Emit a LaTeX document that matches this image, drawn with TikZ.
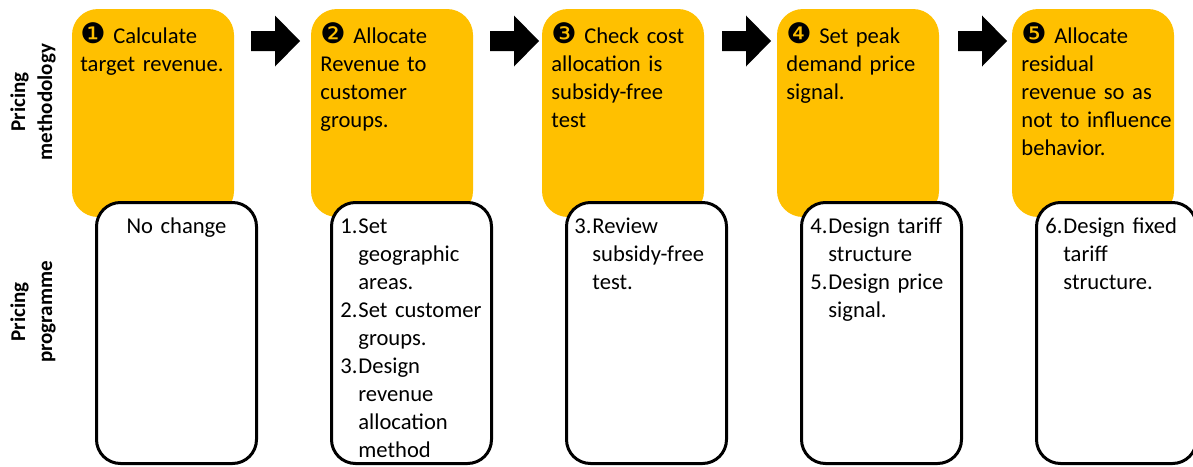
\documentclass[tikz,border=0pt]{standalone}
\usepackage{fontspec}
\setmainfont{Carlito}
\newfontfamily\dingfont{DejaVu Sans}[Scale=1.25]
\usepackage{tikz}
\usepackage{xcolor}
\definecolor{ColStep}{RGB}{255,192,0}
\tikzstyle{StepBox}=[rectangle,rounded corners=13pt,fill=ColStep,minimum width=81pt,
minimum height=104pt,inner sep=0pt]
\tikzstyle{TaskBox}=[rectangle,rounded corners=12pt,draw=black,fill=white,line width=1.5pt,
minimum width=80pt,minimum height=130.5pt,inner sep=0pt]
\tikzstyle{StepText}=[anchor=base west,inner sep=0pt,text width=78pt,align=left,
font=\fontsize{11.3}{14}\selectfont]
\tikzstyle{SideLabel}=[rotate=90,align=center,inner sep=0pt,
font=\fontsize{10.5}{13.5}\selectfont\bfseries]
\newcommand{\Num}[1]{\makebox[9pt][l]{#1}}
\newcommand{\StepNo}[1]{{\dingfont #1}\ }
% block arrow starting at the tail coordinate #1
\newcommand{\BlockArrow}[1]{\fill(#1)++(0,-10)--++(24,0)--++(0,-15.5)--++(25,25.5)
    --++(-25,25.5)--++(0,-15.5)--++(-24,0)--cycle;}

\begin{document}
\begin{tikzpicture}[x=0.5pt,y=-0.5pt]
        \useasboundingbox(0,0)rectangle(1193,466);
        % methodology steps
        \node[StepBox](m1)at(153,113){};
        \node[StepBox](m2)at(392,113){};
        \node[StepBox](m3)at(623,113){};
        \node[StepBox](m4)at(858,113){};
        \node[StepBox](m5)at(1093,113){};
        % programme tasks
        \node[TaskBox](p1)at(176.5,333){};
        \node[TaskBox](p2)at(411.5,333){};
        \node[TaskBox](p3)at(646.5,333){};
        \node[TaskBox](p4)at(881.5,333){};
        \node[TaskBox](p5)at(1116.5,333){};
        % arrows between steps
        \coordinate(a1)at(251,41);
        \coordinate(a2)at(490,41);
        \coordinate(a3)at(722,41);
        \coordinate(a4)at(958,41);
        \BlockArrow{a1}\BlockArrow{a2}\BlockArrow{a3}\BlockArrow{a4}
        % row labels
        \node[SideLabel](lm)at(33,102){Pricing\\methodology};
        \node[SideLabel](lp)at(33,312){Pricing\\programme};
        % step texts
        \node[StepText](s1)at(80,43){\StepNo{❶}Calculate\\target revenue.};
        \node[StepText](s2)at(320,43){\StepNo{❷}Allocate\\Revenue to\\customer\\groups.};
        \node[StepText](s3)at(551,43){\StepNo{❸}Check cost\\allocation is\\subsidy-free\\test};
        \node[StepText](s4)at(786,43){\StepNo{❹}Set peak\\demand price\\signal.};
        \node[StepText](s5)at(1021,43){\StepNo{❺}Allocate\\residual\\revenue so as\\not to influence\\behavior.};
        % task texts
        \node[StepText,anchor=base,align=center](t1)at(176.5,233){No change};
        \node[StepText](t2)at(340,233){\Num{1.}Set\\\Num{}geographic\\\Num{}areas.\\
            \Num{2.}Set customer\\\Num{}groups.\\\Num{3.}Design\\\Num{}revenue\\
            \Num{}allocation\\\Num{}method};
        \node[StepText](t3)at(574,233){\Num{3.}Review\\\Num{}subsidy-free\\\Num{}test.};
        \node[StepText](t4)at(810,233){\Num{4.}Design tariff\\\Num{}structure\\
            \Num{5.}Design price\\\Num{}signal.};
        \node[StepText](t5)at(1045,233){\Num{6.}Design fixed\\\Num{}tariff\\\Num{}structure.};
    \end{tikzpicture}
\end{document}
